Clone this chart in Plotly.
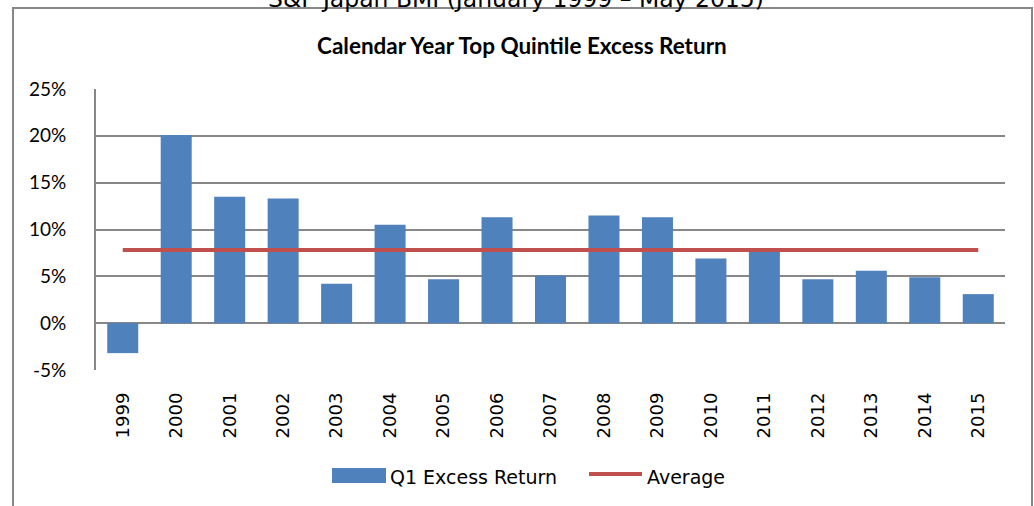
import plotly.graph_objects as go

years = ["1999", "2000", "2001", "2002", "2003", "2004", "2005", "2006", "2007",
         "2008", "2009", "2010", "2011", "2012", "2013", "2014", "2015"]
q1_excess = [-3.2, 20.1, 13.5, 13.3, 4.2, 10.5, 4.7, 11.3, 5.1,
             11.5, 11.3, 6.9, 7.7, 4.7, 5.6, 4.9, 3.1]
average_value = 7.8
y_ticks = [-5, 0, 5, 10, 15, 20, 25]
y_tick_labels = ["-5%", "0%", "5%", "10%", "15%", "20%", "25%"]

BAR = "#4F81BD"
RED = "#C0504D"
GRID = "#878787"

W, H = 1034, 506
L, R, T, B = 96, 29, 89, 136
PW, PH = W - L - R, H - T - B

def px(x):
    return (x - L) / PW

def py(y):
    return (H - B - y) / PH

fig = go.Figure()
fig.add_trace(go.Bar(x=years, y=q1_excess, name="Q1 Excess Return",
                     marker=dict(color=BAR, line=dict(width=0))))
fig.add_trace(go.Scatter(x=years, y=[average_value] * len(years), name="Average",
                         mode="lines", line=dict(color=RED, width=4)))

fig.update_layout(
    width=W, height=H,
    margin=dict(l=L, r=R, t=T, b=B, pad=0, autoexpand=False),
    paper_bgcolor="white", plot_bgcolor="white",
    showlegend=False,
    bargap=0.42,
    font=dict(family="Lato", color="#000000"),
    xaxis=dict(type="category", tickangle=-90, showgrid=False, showline=False,
               automargin=False,
               ticks="", tickfont=dict(family="DejaVu Sans", size=18), ticklabelstandoff=18),
    yaxis=dict(range=[-5, 25], tickvals=y_ticks, ticktext=y_tick_labels,
               automargin=False,
               showgrid=True, gridcolor=GRID, gridwidth=2,
               zeroline=True, zerolinecolor=GRID, zerolinewidth=2,
               showline=True, linecolor=GRID, linewidth=2,
               ticks="", tickfont=dict(family="Lato", size=19), ticklabelstandoff=24),
)

shapes = [
    dict(type="rect", xref="paper", yref="paper", x0=px(13), x1=px(1032), y0=py(560), y1=py(8),
         line=dict(color=GRID, width=2), fillcolor="rgba(0,0,0,0)", layer="below"),
    dict(type="rect", xref="paper", yref="paper", x0=px(332), x1=px(386), y0=py(483), y1=py(468),
         line=dict(width=0), fillcolor=BAR),
    dict(type="line", xref="paper", yref="paper", x0=px(589), x1=px(642), y0=py(474), y1=py(474),
         line=dict(color=RED, width=4)),
]
fig.update_layout(shapes=shapes)

annotations = [
    dict(text="S&P Japan BMI (January 1999 – May 2015)", xref="paper", yref="paper",
         x=px(516), y=py(15), xanchor="center", yanchor="bottom", showarrow=False,
         font=dict(family="DejaVu Sans", size=23.5, color="#000000")),
    dict(text="<b>Calendar Year Top Quintile Excess Return</b>", xref="paper", yref="paper",
         x=px(522), y=py(46), xanchor="center", yanchor="middle", showarrow=False,
         font=dict(family="Lato", size=22.5, color="#000000")),
    dict(text="Q1 Excess Return", xref="paper", yref="paper",
         x=px(388), y=py(477), xanchor="left", yanchor="middle", showarrow=False,
         font=dict(family="DejaVu Sans", size=19, color="#000000")),
    dict(text="Average", xref="paper", yref="paper",
         x=px(645), y=py(477), xanchor="left", yanchor="middle", showarrow=False,
         font=dict(family="DejaVu Sans", size=19, color="#000000")),
]
fig.update_layout(annotations=annotations)

fig.write_html("out.html", config={"displayModeBar": False},
               post_script="document.body.style.margin='0';")
